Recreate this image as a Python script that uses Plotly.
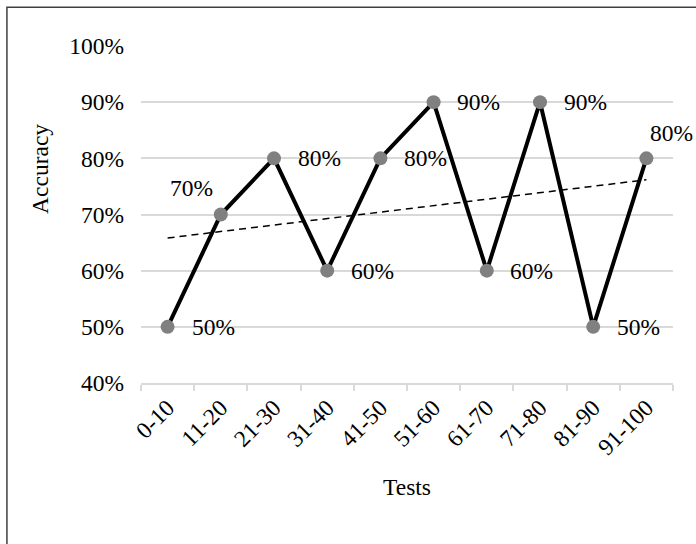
import numpy as np
import plotly.graph_objects as go

# Accuracy per test bucket
categories = ["0-10", "11-20", "21-30", "31-40", "41-50",
              "51-60", "61-70", "71-80", "81-90", "91-100"]
accuracy = [0.50, 0.70, 0.80, 0.60, 0.80, 0.90, 0.60, 0.90, 0.50, 0.80]
y_ticks = [0.4, 0.5, 0.6, 0.7, 0.8, 0.9, 1.0]

FONT = "Liberation Serif"
FS = 23.5

# Linear trend over the bucket index
idx = np.arange(1, len(accuracy) + 1)
slope, intercept = np.polyfit(idx, accuracy, 1)
trend = slope * idx + intercept

fig = go.Figure()
fig.add_trace(go.Scatter(
    x=categories, y=trend, mode="lines",
    line=dict(color="black", width=1.5, dash="7px,5px"),
    hoverinfo="skip", showlegend=False,
))
fig.add_trace(go.Scatter(
    x=categories, y=accuracy, mode="lines+markers",
    line=dict(color="black", width=4),
    marker=dict(color="#808080", size=14),
    showlegend=False,
))

# Data labels: (xshift, yshift) per point
label_offsets = [(46, 0), (-29, 27), (45, 0), (45, 0), (45, 0),
                 (45, 0), (45, 0), (45, 0), (45, 0), (25, 25)]
for cat, val, (dx, dy) in zip(categories, accuracy, label_offsets):
    fig.add_annotation(
        x=cat, y=val, text=f"{val * 100:.0f}%", showarrow=False,
        xshift=dx, yshift=dy, font=dict(family=FONT, size=FS, color="black"),
    )

# Y axis title
fig.add_annotation(
    xref="paper", yref="paper", x=-0.19, y=0.635, text="Accuracy",
    textangle=-90, showarrow=False, xanchor="center", yanchor="middle",
    font=dict(family=FONT, size=FS, color="black"),
)

# Chart border
fig.add_shape(
    type="rect", xref="paper", yref="paper",
    x0=-0.252, y0=-0.6, x1=1.1, y1=1.115,
    line=dict(color="#404040", width=1.5), layer="above",
)

fig.update_layout(
    width=696, height=544,
    margin=dict(l=141, r=23, t=46, b=161),
    paper_bgcolor="white", plot_bgcolor="white",
    font=dict(family=FONT, size=FS, color="black"),
    xaxis=dict(
        type="category", tickangle=-45,
        tickson="boundaries", ticks="outside", ticklen=6,
        tickcolor="#d9d9d9", tickwidth=1.5,
        showline=True, linecolor="#d9d9d9", linewidth=1.5,
        showgrid=False, zeroline=False,
        title=dict(text="Tests", font=dict(family=FONT, size=FS), standoff=19),
        range=[-0.5, 9.5],
    ),
    yaxis=dict(
        range=[0.4, 1.0], tickvals=y_ticks, tickformat=".0%",
        showgrid=True, gridcolor="#d9d9d9", gridwidth=1.5,
        zeroline=False, showline=False, ticks="",
        ticklabelstandoff=16,
    ),
)

fig.write_html("out.html")
